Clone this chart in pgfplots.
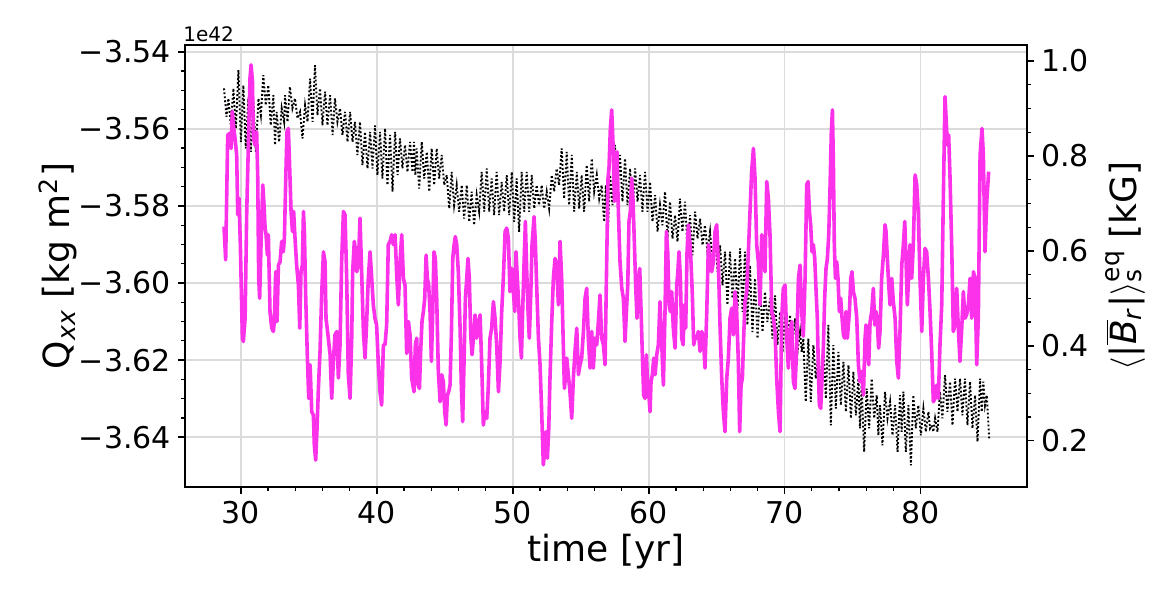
\documentclass[border=0pt]{standalone}
\usepackage{fontspec}
\setmainfont{DejaVu Sans}
\usepackage{pgfplots}
\pgfplotsset{compat=1.18}
\definecolor{mag}{RGB}{252,50,235}
\pgfplotsset{
  common/.style={
    scale only axis, width=421pt, height=221pt,
    xmin=25.90, xmax=87.82,
    tick align=outside,
    major tick length=3.5pt, minor tick length=2pt,
    major tick style={black, line width=0.8pt},
    minor tick style={black, line width=0.6pt},
    axis line style={line width=0.8pt},
    ticklabel style={font=\fontsize{15}{18}\selectfont},
    scaled ticks=false,
  }
}
\begin{document}
\begin{tikzpicture}
\begin{axis}[common,
  ymin=-3.65292, ymax=-3.53826,
  xtick={30,40,50,60,70,80}, xticklabels={30,40,50,60,70,80},
  ytick={-3.64,-3.62,-3.60,-3.58,-3.56,-3.54},
  yticklabels={−3.64,−3.62,−3.60,−3.58,−3.56,−3.54},
  minor x tick num=4, minor y tick num=3,
  tick pos=left,
  grid=major, major grid style={gray!28, line width=0.8pt},
]
\addplot[black, line width=0.95pt, dash pattern=on 0.95pt off 1.05pt] coordinates {
(28.77,-3.5495) (28.95,-3.5569) (29.09,-3.5521) (29.27,-3.5591) (29.46,-3.5495) (29.64,-3.5599)
(29.83,-3.5448) (30.01,-3.5634) (30.19,-3.5487) (30.37,-3.5651) (30.56,-3.5521) (30.74,-3.5660)
(30.93,-3.5530) (31.11,-3.5660) (31.30,-3.5521) (31.48,-3.5565) (31.66,-3.5461) (31.84,-3.5539)
(32.03,-3.5487) (32.21,-3.5591) (32.40,-3.5513) (32.52,-3.5642) (32.64,-3.5556) (32.82,-3.5634)
(33.01,-3.5547) (33.19,-3.5582) (33.26,-3.5513) (33.44,-3.5582) (33.62,-3.5491) (33.80,-3.5547)
(33.99,-3.5521) (34.17,-3.5573) (34.36,-3.5556) (34.54,-3.5625) (34.73,-3.5539) (34.91,-3.5582)
(35.10,-3.5470) (35.28,-3.5582) (35.46,-3.5435) (35.64,-3.5565) (35.83,-3.5495) (36.01,-3.5591)
(36.20,-3.5504) (36.38,-3.5591) (36.57,-3.5513) (36.75,-3.5616) (36.93,-3.5521) (37.11,-3.5582)
(37.30,-3.5547) (37.48,-3.5616) (37.67,-3.5556) (37.85,-3.5634) (38.04,-3.5556) (38.22,-3.5634)
(38.40,-3.5582) (38.58,-3.5668) (38.77,-3.5582) (38.95,-3.5694) (39.14,-3.5608) (39.32,-3.5703)
(39.51,-3.5608) (39.69,-3.5703) (39.87,-3.5591) (40.05,-3.5720) (40.24,-3.5608) (40.42,-3.5729)
(40.61,-3.5599) (40.79,-3.5746) (40.98,-3.5616) (41.16,-3.5763) (41.35,-3.5608) (41.53,-3.5720)
(41.71,-3.5625) (41.89,-3.5703) (42.08,-3.5642) (42.26,-3.5712) (42.45,-3.5634) (42.63,-3.5712)
(42.74,-3.5634) (42.84,-3.5720) (42.94,-3.5651) (43.12,-3.5755) (43.31,-3.5634) (43.49,-3.5729)
(43.68,-3.5660) (43.86,-3.5763) (44.04,-3.5651) (44.22,-3.5746) (44.41,-3.5651) (44.59,-3.5729)
(44.78,-3.5668) (44.96,-3.5746) (45.15,-3.5720) (45.33,-3.5807) (45.51,-3.5712) (45.69,-3.5798)
(45.88,-3.5746) (46.06,-3.5815) (46.25,-3.5746) (46.43,-3.5833) (46.62,-3.5746) (46.80,-3.5841)
(46.98,-3.5763) (47.16,-3.5850) (47.35,-3.5772) (47.53,-3.5815) (47.72,-3.5712) (47.90,-3.5815)
(48.09,-3.5703) (48.27,-3.5815) (48.45,-3.5729) (48.63,-3.5824) (48.82,-3.5712) (49.00,-3.5824)
(49.19,-3.5738) (49.37,-3.5815) (49.56,-3.5720) (49.74,-3.5824) (49.93,-3.5712) (50.11,-3.5841)
(50.29,-3.5729) (50.47,-3.5867) (50.66,-3.5712) (50.84,-3.5815) (51.03,-3.5712) (51.21,-3.5815)
(51.40,-3.5720) (51.58,-3.5807) (51.76,-3.5746) (51.94,-3.5798) (52.13,-3.5746) (52.31,-3.5807)
(52.50,-3.5763) (52.68,-3.5807) (52.87,-3.5720) (53.05,-3.5763) (53.23,-3.5703) (53.41,-3.5746)
(53.60,-3.5651) (53.78,-3.5781) (53.97,-3.5660) (54.15,-3.5798) (54.34,-3.5668) (54.52,-3.5815)
(54.71,-3.5712) (54.89,-3.5807) (55.07,-3.5720) (55.25,-3.5815) (55.44,-3.5694) (55.62,-3.5789)
(55.81,-3.5677) (55.99,-3.5763) (56.18,-3.5720) (56.36,-3.5781) (56.54,-3.5746) (56.72,-3.5841)
(56.85,-3.5746) (57.00,-3.5867) (57.16,-3.5720) (57.34,-3.5798) (57.52,-3.5642) (57.70,-3.5763)
(57.89,-3.5668) (58.07,-3.5789) (58.26,-3.5677) (58.44,-3.5798) (58.63,-3.5703) (58.81,-3.5815)
(59.00,-3.5703) (59.18,-3.5789) (59.36,-3.5720) (59.54,-3.5815) (59.73,-3.5712) (59.91,-3.5815)
(60.10,-3.5738) (60.28,-3.5841) (60.47,-3.5772) (60.65,-3.5867) (60.83,-3.5798) (61.01,-3.5850)
(61.20,-3.5763) (61.38,-3.5885) (61.57,-3.5789) (61.75,-3.5885) (61.94,-3.5824) (62.12,-3.5893)
(62.30,-3.5781) (62.48,-3.5867) (62.67,-3.5789) (62.85,-3.5910) (63.04,-3.5824) (63.22,-3.5928)
(63.41,-3.5815) (63.59,-3.5885) (63.78,-3.5833) (63.96,-3.5902) (64.14,-3.5850) (64.32,-3.5919)
(64.51,-3.5867) (64.69,-3.5954) (64.88,-3.5867) (65.06,-3.5971) (65.25,-3.5902) (65.43,-3.6006)
(65.61,-3.5919) (65.79,-3.6057) (65.98,-3.5919) (66.16,-3.6040) (66.35,-3.5936) (66.53,-3.6066)
(66.72,-3.5910) (66.90,-3.6075) (67.08,-3.5919) (67.26,-3.6109) (67.45,-3.5954) (67.63,-3.6127)
(67.82,-3.5988) (68.00,-3.6144) (68.19,-3.6006) (68.37,-3.6127) (68.55,-3.6023) (68.73,-3.6101)
(68.92,-3.6040) (69.10,-3.6144) (69.29,-3.6032) (69.47,-3.6161) (69.66,-3.6075) (69.84,-3.6179)
(70.03,-3.6075) (70.21,-3.6161) (70.39,-3.6083) (70.57,-3.6161) (70.76,-3.6092) (70.94,-3.6179)
(71.13,-3.6127) (71.25,-3.6179) (71.37,-3.6144) (71.55,-3.6308) (71.74,-3.6144) (71.92,-3.6308)
(72.11,-3.6161) (72.29,-3.6248) (72.48,-3.6179) (72.66,-3.6282) (72.85,-3.6161) (73.03,-3.6300)
(73.21,-3.6109) (73.39,-3.6369) (73.58,-3.6161) (73.76,-3.6326) (73.95,-3.6179) (74.13,-3.6317)
(74.32,-3.6205) (74.50,-3.6334) (74.69,-3.6213) (74.87,-3.6351) (75.05,-3.6230) (75.23,-3.6343)
(75.42,-3.6248) (75.54,-3.6377) (75.66,-3.6265) (75.84,-3.6438) (76.03,-3.6274) (76.21,-3.6377)
(76.40,-3.6248) (76.58,-3.6351) (76.77,-3.6291) (76.89,-3.6395) (77.01,-3.6317) (77.19,-3.6421)
(77.38,-3.6282) (77.56,-3.6351) (77.75,-3.6308) (77.93,-3.6395) (78.12,-3.6317) (78.30,-3.6438)
(78.48,-3.6291) (78.60,-3.6386) (78.73,-3.6282) (78.91,-3.6438) (79.10,-3.6317) (79.28,-3.6473)
(79.46,-3.6291) (79.64,-3.6377) (79.83,-3.6317) (80.01,-3.6395) (80.20,-3.6326) (80.38,-3.6386)
(80.57,-3.6334) (80.69,-3.6377) (80.81,-3.6369) (80.93,-3.6386) (81.06,-3.6351) (81.24,-3.6386)
(81.42,-3.6282) (81.60,-3.6351) (81.79,-3.6239) (81.97,-3.6334) (82.16,-3.6256) (82.34,-3.6369)
(82.53,-3.6248) (82.71,-3.6334) (82.89,-3.6248) (83.07,-3.6343) (83.26,-3.6248) (83.44,-3.6369)
(83.63,-3.6256) (83.81,-3.6377) (84.00,-3.6291) (84.18,-3.6412) (84.37,-3.6248) (84.49,-3.6334)
(84.61,-3.6256) (84.73,-3.6317) (84.86,-3.6291) (85.04,-3.6403)
};
\coordinate (BL) at (rel axis cs:0,0);
\coordinate (TR) at (rel axis cs:1,1);
\coordinate (LM) at (rel axis cs:0,0.5);
\coordinate (RM) at (rel axis cs:1,0.5);
\coordinate (BM) at (rel axis cs:0.5,0);
\coordinate (TL) at (rel axis cs:0,1);
\end{axis}
\begin{axis}[common,
  ymin=0.1024, ymax=1.0337,
  axis y line*=right, axis x line=none,
  ytick={0.2,0.4,0.6,0.8,1.0}, yticklabels={0.2,0.4,0.6,0.8,1.0},
  minor y tick num=3,
]
\addplot[mag, line width=1.8pt, line join=round] coordinates {
(28.77,0.651) (28.89,0.581) (29.04,0.844) (29.21,0.848) (29.29,0.816) (29.38,0.894) (29.46,0.865)
(29.58,0.837) (29.70,0.802) (29.78,0.676) (29.87,0.711) (29.97,0.613) (30.12,0.416) (30.19,0.409)
(30.32,0.458) (30.44,0.683) (30.56,0.823) (30.68,0.964) (30.76,0.992) (30.86,0.957) (30.93,0.837)
(31.05,0.823) (31.17,0.851) (31.25,0.753) (31.32,0.542) (31.39,0.500) (31.49,0.613) (31.62,0.739)
(31.71,0.697) (31.79,0.648) (31.86,0.634) (31.96,0.591) (32.03,0.634) (32.15,0.472) (32.28,0.437)
(32.40,0.430) (32.47,0.451) (32.57,0.556) (32.67,0.451) (32.77,0.570) (32.89,0.577) (33.01,0.620)
(33.13,0.598) (33.21,0.627) (33.31,0.753) (33.40,0.851) (33.50,0.858) (33.60,0.774) (33.70,0.683)
(33.80,0.641) (33.89,0.683) (33.99,0.627) (34.11,0.570) (34.24,0.528) (34.34,0.437) (34.43,0.556)
(34.53,0.570) (34.61,0.683) (34.68,0.641) (34.78,0.500) (34.90,0.374) (35.00,0.289) (35.10,0.360)
(35.22,0.261) (35.34,0.254) (35.41,0.191) (35.51,0.159) (35.61,0.226) (35.71,0.310) (35.83,0.388)
(35.95,0.507) (36.08,0.598) (36.20,0.577) (36.27,0.458) (36.44,0.416) (36.57,0.381) (36.69,0.289)
(36.81,0.367) (36.93,0.423) (37.06,0.430) (37.18,0.332) (37.30,0.402) (37.42,0.577) (37.55,0.683)
(37.67,0.676) (37.79,0.542) (37.91,0.339) (38.04,0.289) (38.16,0.416) (38.23,0.556) (38.35,0.620)
(38.45,0.598) (38.53,0.556) (38.65,0.570) (38.77,0.669) (38.89,0.556) (39.02,0.430) (39.14,0.374)
(39.26,0.451) (39.38,0.542) (39.51,0.598) (39.63,0.542) (39.75,0.486) (39.87,0.458) (39.99,0.444)
(40.12,0.360) (40.24,0.303) (40.36,0.275) (40.49,0.402) (40.61,0.402) (40.73,0.444) (40.85,0.613)
(40.98,0.620) (41.10,0.634) (41.22,0.613) (41.35,0.634) (41.47,0.549) (41.59,0.486) (41.71,0.577)
(41.84,0.634) (41.96,0.542) (42.08,0.528) (42.20,0.384) (42.33,0.451) (42.45,0.423) (42.57,0.332)
(42.74,0.303) (42.84,0.402) (42.94,0.416) (43.04,0.317) (43.14,0.310) (43.23,0.388) (43.33,0.451)
(43.43,0.472) (43.53,0.500) (43.63,0.591) (43.72,0.542) (43.82,0.528) (43.92,0.472) (44.02,0.367)
(44.12,0.472) (44.21,0.598) (44.31,0.584) (44.41,0.500) (44.53,0.346) (44.66,0.282) (44.78,0.339)
(44.90,0.324) (45.00,0.261) (45.10,0.233) (45.20,0.296) (45.29,0.303) (45.39,0.317) (45.49,0.423)
(45.59,0.584) (45.69,0.613) (45.78,0.630) (45.88,0.613) (46.00,0.556) (46.13,0.437) (46.22,0.317)
(46.32,0.240) (46.42,0.367) (46.52,0.500) (46.62,0.542) (46.71,0.584) (46.81,0.542) (46.91,0.423)
(47.01,0.381) (47.11,0.416) (47.23,0.465) (47.35,0.416) (47.47,0.444) (47.60,0.465) (47.72,0.360)
(47.84,0.233) (47.96,0.261) (48.09,0.247) (48.21,0.317) (48.33,0.416) (48.45,0.437) (48.58,0.493)
(48.70,0.458) (48.82,0.402) (48.95,0.303) (49.07,0.367) (49.19,0.472) (49.31,0.542) (49.44,0.641)
(49.56,0.648) (49.68,0.627) (49.80,0.514) (49.93,0.563) (50.05,0.514) (50.15,0.472) (50.24,0.598)
(50.34,0.542) (50.44,0.486) (50.54,0.416) (50.64,0.374) (50.73,0.472) (50.83,0.570) (50.93,0.662)
(51.03,0.556) (51.13,0.472) (51.22,0.416) (51.32,0.500) (51.42,0.613) (51.57,0.672) (51.67,0.613)
(51.76,0.528) (51.89,0.416) (52.01,0.360) (52.13,0.261) (52.25,0.149) (52.35,0.177) (52.45,0.219)
(52.55,0.163) (52.65,0.226) (52.74,0.332) (52.87,0.451) (52.99,0.542) (53.11,0.584) (53.23,0.570)
(53.36,0.486) (53.48,0.620) (53.60,0.542) (53.72,0.402) (53.80,0.310) (53.90,0.339) (53.97,0.374)
(54.09,0.339) (54.21,0.303) (54.34,0.247) (54.46,0.332) (54.58,0.388) (54.71,0.437) (54.83,0.339)
(54.95,0.360) (55.07,0.374) (55.20,0.430) (55.32,0.500) (55.44,0.521) (55.56,0.416) (55.69,0.353)
(55.81,0.430) (55.93,0.353) (56.05,0.416) (56.18,0.402) (56.30,0.451) (56.42,0.507) (56.54,0.416)
(56.67,0.402) (56.79,0.360) (56.91,0.577) (57.01,0.753) (57.08,0.774) (57.18,0.858) (57.28,0.897)
(57.38,0.823) (57.48,0.704) (57.57,0.753) (57.67,0.809) (57.77,0.683) (57.89,0.577) (58.02,0.521)
(58.14,0.500) (58.26,0.409) (58.36,0.472) (58.46,0.528) (58.55,0.662) (58.65,0.683) (58.75,0.753)
(58.85,0.704) (58.95,0.613) (59.04,0.528) (59.14,0.458) (59.24,0.528) (59.34,0.563) (59.44,0.472)
(59.54,0.374) (59.63,0.296) (59.73,0.289) (59.83,0.381) (59.93,0.310) (60.03,0.289) (60.10,0.261)
(60.17,0.324) (60.27,0.339) (60.37,0.374) (60.47,0.339) (60.59,0.381) (60.71,0.402) (60.83,0.493)
(60.96,0.402) (61.08,0.317) (61.20,0.472) (61.30,0.641) (61.40,0.598) (61.50,0.486) (61.59,0.472)
(61.69,0.514) (61.81,0.437) (61.94,0.395) (62.06,0.528) (62.13,0.549) (62.23,0.598) (62.33,0.542)
(62.43,0.416) (62.53,0.402) (62.62,0.486) (62.72,0.437) (62.82,0.598) (62.92,0.655) (63.04,0.613)
(63.11,0.577) (63.21,0.507) (63.31,0.402) (63.41,0.416) (63.53,0.416) (63.65,0.430) (63.78,0.388)
(63.90,0.430) (64.02,0.416) (64.14,0.353) (64.27,0.472) (64.39,0.613) (64.51,0.591) (64.63,0.556)
(64.76,0.577) (64.88,0.641) (65.00,0.655) (65.12,0.577) (65.25,0.437) (65.37,0.332) (65.49,0.261)
(65.61,0.219) (65.74,0.332) (65.86,0.374) (65.98,0.458) (66.10,0.479) (66.23,0.423) (66.35,0.514)
(66.47,0.472) (66.59,0.367) (66.69,0.219) (66.79,0.317) (66.89,0.332) (66.99,0.423) (67.08,0.493)
(67.21,0.514) (67.33,0.598) (67.45,0.683) (67.57,0.767) (67.70,0.816) (67.82,0.753) (67.94,0.613)
(68.06,0.577) (68.19,0.486) (68.31,0.634) (68.43,0.598) (68.55,0.556) (68.68,0.746) (68.80,0.711)
(68.92,0.634) (69.05,0.472) (69.17,0.458) (69.29,0.430) (69.41,0.332) (69.54,0.261) (69.66,0.219)
(69.78,0.458) (69.90,0.521) (70.03,0.528) (70.15,0.416) (70.27,0.353) (70.39,0.430) (70.52,0.451)
(70.64,0.324) (70.76,0.310) (70.88,0.395) (71.01,0.542) (71.13,0.570) (71.25,0.472) (71.37,0.420)
(71.50,0.542) (71.62,0.739) (71.72,0.746) (71.82,0.683) (71.91,0.655) (72.01,0.598) (72.11,0.613)
(72.21,0.584) (72.31,0.514) (72.40,0.458) (72.48,0.346) (72.55,0.275) (72.65,0.268) (72.75,0.332)
(72.85,0.402) (72.94,0.500) (73.04,0.563) (73.14,0.584) (73.24,0.634) (73.34,0.739) (73.43,0.851)
(73.51,0.897) (73.58,0.788) (73.65,0.613) (73.73,0.542) (73.83,0.577) (73.92,0.542) (74.02,0.472)
(74.12,0.500) (74.22,0.458) (74.32,0.423) (74.41,0.416) (74.51,0.472) (74.61,0.416) (74.76,0.472)
(74.86,0.542) (74.95,0.556) (75.05,0.514) (75.17,0.500) (75.30,0.458) (75.42,0.360) (75.54,0.324)
(75.66,0.346) (75.79,0.296) (75.91,0.416) (75.98,0.444) (76.08,0.388) (76.18,0.360) (76.28,0.451)
(76.40,0.472) (76.52,0.521) (76.62,0.444) (76.72,0.472) (76.82,0.444) (76.91,0.395) (77.01,0.430)
(77.13,0.542) (77.26,0.591) (77.38,0.655) (77.45,0.641) (77.55,0.584) (77.65,0.528) (77.75,0.486)
(77.87,0.542) (77.99,0.493) (78.12,0.458) (78.24,0.367) (78.36,0.332) (78.48,0.430) (78.61,0.570)
(78.73,0.613) (78.83,0.662) (78.92,0.584) (79.02,0.486) (79.12,0.549) (79.22,0.613) (79.34,0.542)
(79.46,0.613) (79.59,0.760) (79.71,0.739) (79.83,0.676) (79.95,0.542) (80.08,0.430) (80.20,0.542)
(80.32,0.605) (80.44,0.598) (80.57,0.542) (80.69,0.472) (80.81,0.388) (80.93,0.282) (81.06,0.289)
(81.18,0.317) (81.30,0.289) (81.42,0.402) (81.55,0.486) (81.67,0.718) (81.79,0.925) (81.87,0.879)
(81.96,0.823) (82.06,0.844) (82.16,0.753) (82.28,0.613) (82.40,0.430) (82.53,0.444) (82.65,0.521)
(82.77,0.437) (82.89,0.367) (83.02,0.437) (83.14,0.514) (83.26,0.458) (83.38,0.465) (83.51,0.486)
(83.63,0.542) (83.75,0.458) (83.88,0.556) (84.00,0.542) (84.12,0.360) (84.24,0.458) (84.37,0.802)
(84.51,0.858) (84.61,0.802) (84.73,0.598) (84.86,0.704) (85.00,0.767)
};
\end{axis}
\node[rotate=90, font=\fontsize{18}{20}\selectfont] at ([xshift=-63.5pt]LM) {Q\textsubscript{\textit{xx}} [kg m\textsuperscript{2}]};
\node[font=\fontsize{18}{20}\selectfont] at ([yshift=-32.5pt]BM) {time [yr]};
\node[rotate=90, font=\fontsize{18}{20}\selectfont] at ([xshift=49pt]RM) {$\langle$|$\overline{\mbox{\textit{B}}}$\textsubscript{\textit{r}}|$\rangle^{\mbox{\fontsize{12.5}{13}\selectfont eq}}_{\mbox{\fontsize{12.5}{13}\selectfont s}}$ [kG]};
\node[anchor=south west, inner sep=0pt, font=\fontsize{10}{12}\selectfont] at ([xshift=-1pt,yshift=1.5pt]TL) {1e42};
\pgfresetboundingbox
\path ([shift={(-92.5pt,-55pt)}]BL) rectangle ([shift={(73pt,22.5pt)}]TR);
\end{tikzpicture}
\end{document}
